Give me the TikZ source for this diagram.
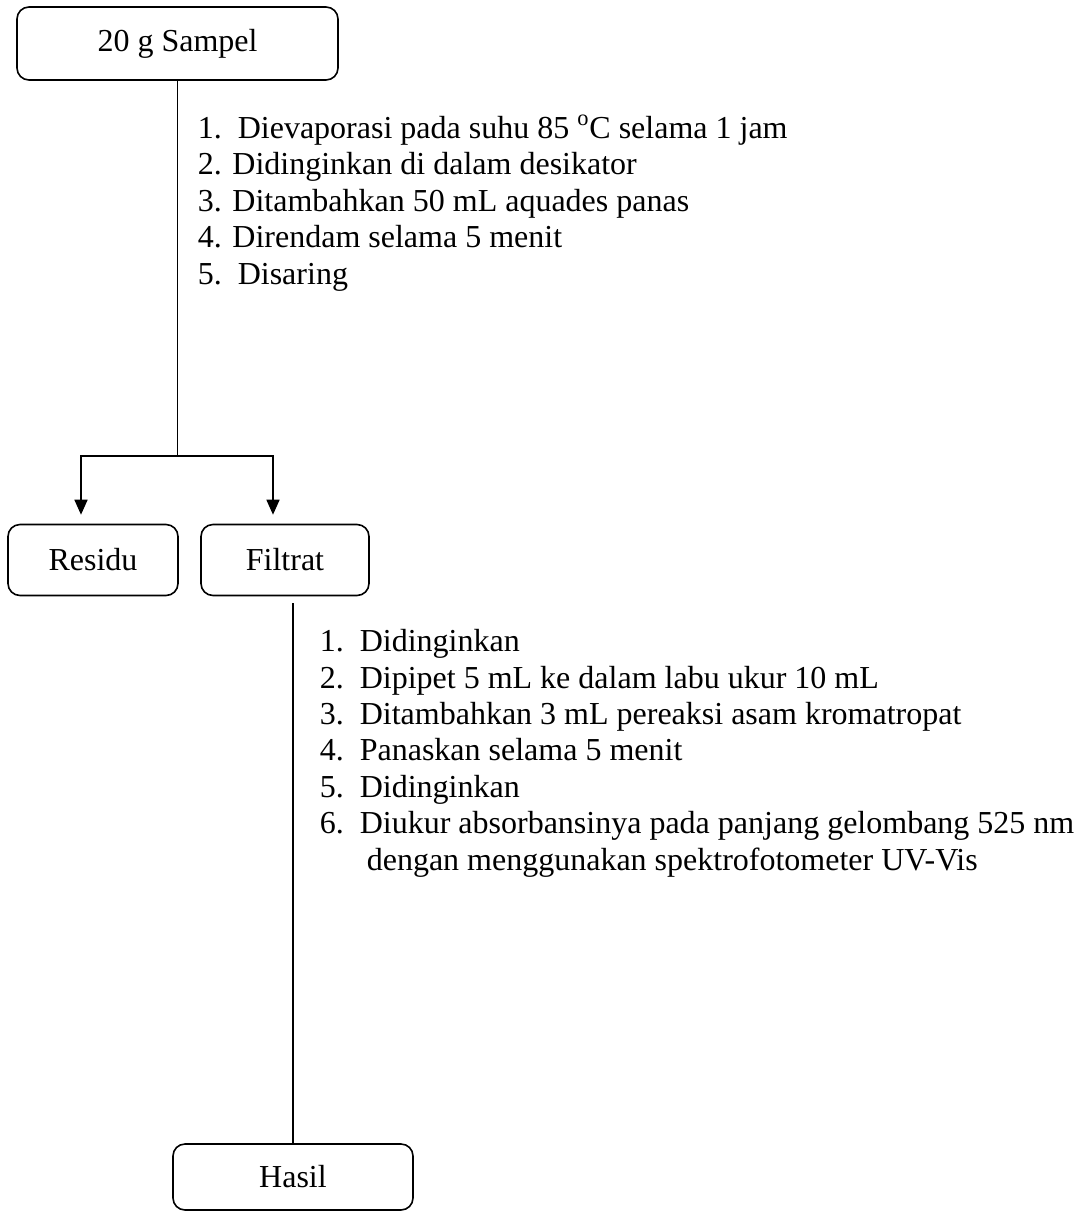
\documentclass[tikz,border=0pt]{standalone}
\usepackage{fontspec}
\setmainfont{Liberation Serif}
\usetikzlibrary{arrows.meta,calc}

\begin{document}
\begin{tikzpicture}[x=0.5pt,y=-0.5pt,>={Triangle[length=7.5pt,width=6.5pt]},line width=0.8pt,
  box/.style={draw,rounded corners=6pt,align=center,inner sep=0pt,font=\fontsize{16}{18}\selectfont},
  steps/.style={align=left,anchor=base west,inner sep=0pt,font=\fontsize{16}{18.2}\selectfont}]
\useasboundingbox (0,0) rectangle (1083,1212);
\node[box,minimum width=160.5pt,minimum height=36.5pt] (sampel) at (177.5,43.5) {20 g Sampel};
\node[box,minimum width=85pt,minimum height=35.5pt] (residu) at (93,560) {Residu};
\node[box,minimum width=84pt,minimum height=35.5pt] (filtrat) at (285,560) {Filtrat};
\node[box,minimum width=120pt,minimum height=33pt] (hasil) at (293,1177) {Hasil};
\coordinate (split) at (177.5,456);
\draw (sampel.south) -- (split);
\draw[->] (split) -| ($(residu.north)+(-12,-9)$);
\draw[->] (split) -| ($(filtrat.north)+(-12,-9)$);
\draw ($(filtrat.south -| hasil.north)+(0,7)$) -- (hasil.north);
% base = baseline of the last line
\node[steps] (langkah1) at (197,284) {1.\ \ Dievaporasi pada suhu 85 \textsuperscript{o}C selama 1 jam\\
2. Didinginkan di dalam desikator\\
3. Ditambahkan 50 mL aquades panas\\
4. Direndam selama 5 menit\\
5.\ \ Disaring};
\node[steps] (langkah2) at (319,870) {1.\ \ Didinginkan\\
2.\ \ Dipipet 5 mL ke dalam labu ukur 10 mL\\
3.\ \ Ditambahkan 3 mL pereaksi asam kromatropat\\
4.\ \ Panaskan selama 5 menit\\
5.\ \ Didinginkan\\
6.\ \ Diukur absorbansinya pada panjang gelombang 525 nm\\
\hspace*{23.5pt}dengan menggunakan spektrofotometer UV-Vis};
\end{tikzpicture}
\end{document}
